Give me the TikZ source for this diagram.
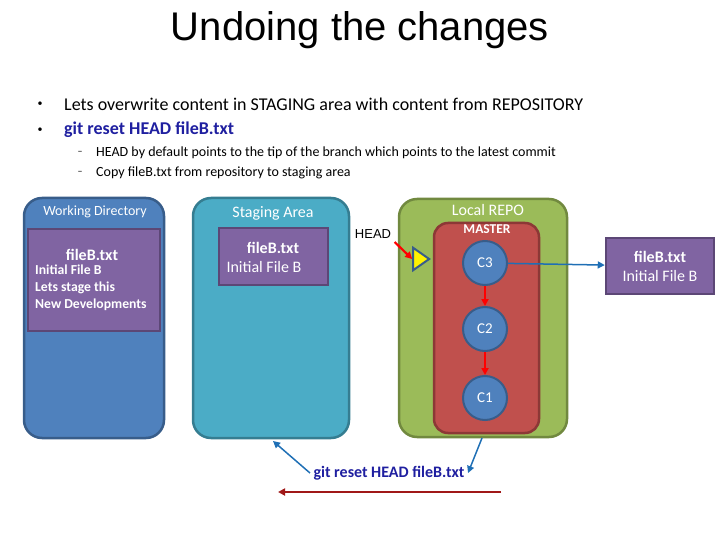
\documentclass[tikz,border=0pt]{standalone}
\usepackage{fontspec}
\setmainfont{Carlito}
\newfontfamily\arialf{Liberation Sans}
\usetikzlibrary{arrows.meta,shapes.geometric}
\definecolor{wdblue}{HTML}{4F81BD}
\definecolor{wdedge}{HTML}{385D8A}
\definecolor{stblue}{HTML}{4BACC6}
\definecolor{stedge}{HTML}{357D91}
\definecolor{grn}{HTML}{9BBB59}
\definecolor{grnedge}{HTML}{71893F}
\definecolor{rd}{HTML}{C0504D}
\definecolor{rdedge}{HTML}{8C3836}
\definecolor{purp}{HTML}{8064A2}
\definecolor{purpedge}{HTML}{5C4776}
\definecolor{cmdblue}{HTML}{1F1FA0}
\definecolor{arrblue}{HTML}{1F6FB5}
\definecolor{darkred}{HTML}{A01818}
\begin{document}
\begin{tikzpicture}[x=1pt,y=-1pt,
  area/.style={draw=#1,line width=2.5pt,rounded corners=18pt},
  filebox/.style={draw=purpedge,fill=purp,line width=2.5pt},
  commit/.style={circle,draw=wdedge,fill=wdblue,line width=2pt,minimum size=44pt,inner sep=0pt,text=white,font=\fontsize{15}{17}\selectfont},
  wt/.style={text=white},
  bl/.style={-{Triangle[length=7pt,width=7pt]},line width=1.8pt,arrblue},
  rl/.style={-{Triangle[length=7pt,width=7pt]},line width=2.2pt,red}]
\useasboundingbox (0,0) rectangle (720,540);
\node (title) at (360,30) {\fontsize{40}{46}\selectfont\arialf Undoing the changes};
\node (b1) at (40,104) {\textbullet};
\node[anchor=west,inner sep=0pt] (t1) at (64,104) {\fontsize{18}{20}\selectfont Lets overwrite content in STAGING area with content from REPOSITORY};
\node (b2) at (40,130) {\textbullet};
\node[anchor=west,inner sep=0pt,text=cmdblue] (t2) at (64,130) {\fontsize{18}{20}\selectfont\bfseries git reset HEAD fileB.txt};
\node (d1) at (80,153) {--};
\node[anchor=west,inner sep=0pt] (s1) at (96,153) {\fontsize{14}{16}\selectfont HEAD by default points to the tip of the branch which points to the latest commit};
\node (d2) at (80,173) {--};
\node[anchor=west,inner sep=0pt] (s2) at (96,173) {\fontsize{14}{16}\selectfont Copy fileB.txt from repository to staging area};
% working directory
\draw[area=wdedge,fill=wdblue] (24,198) rectangle (164,438);
\node[wt,font=\fontsize{14}{16}\selectfont] (wdh) at (95,212) {Working Directory};
\draw[filebox] (28,229) rectangle (160,331);
\node[wt,font=\fontsize{16}{18}\selectfont\bfseries] (wdf) at (92,255) {fileB.txt};
\node[wt,anchor=north west,align=left,inner sep=0pt,font=\fontsize{13.7}{17}\selectfont\bfseries] (wdt) at (35,265) {Initial File B\\Lets stage this\\New Developments};
% staging
\draw[area=stedge,fill=stblue] (193,198) rectangle (349,438);
\node[wt,font=\fontsize{16}{18}\selectfont] (sth) at (273,213) {Staging Area};
\coordinate (stbot) at (273,441);
\draw[filebox] (219,228) rectangle (328,285);
\node[wt,font=\fontsize{16}{18}\selectfont\bfseries] (stf) at (273,248) {fileB.txt};
\node[wt,font=\fontsize{16}{18}\selectfont] (stt) at (264,267) {Initial File B};
% local repo
\draw[area=grnedge,fill=grn] (399,199) rectangle (567,437);
\coordinate (repobot) at (482,438);
\node[wt,font=\fontsize{16}{18}\selectfont] (rph) at (488,210) {Local REPO};
\draw[draw=rdedge,fill=rd,line width=2.5pt,rounded corners=14pt] (434,223) rectangle (539,433);
\node[wt,font=\fontsize{13.5}{15}\selectfont\bfseries] (mst) at (487,229) {MASTER};
\node[commit] (c3) at (485,263) {C3};
\node[commit] (c2) at (485,329) {C2};
\node[commit] (c1) at (485,398) {C1};
\draw[rl] (c3) -- (c2);
\draw[rl] (c2) -- (c1);
\node[isosceles triangle,draw=wdedge,fill=yellow,line width=2pt,minimum height=16pt,minimum width=20pt,inner sep=0pt,isosceles triangle apex angle=70] (tri) at (419,259) {};
\node[font=\fontsize{13}{15}\selectfont\arialf] (head) at (373,234) {HEAD};
\draw[rl] (head.south east) -- (tri.west);
% right file
\node[filebox,minimum width=108pt,minimum height=56pt,align=center,text=white,font=\fontsize{16}{19}\selectfont] (rf) at (660,266) {\textbf{fileB.txt}\\Initial File B};
\draw[bl,line width=1.5pt] (c3) -- (rf);
% command
\node[text=cmdblue,font=\fontsize{16}{18}\selectfont\bfseries] (cmd) at (389,473) {git reset HEAD fileB.txt};
\draw[bl,line width=1.5pt] (cmd.west) -- (stbot);
\draw[bl,line width=1.5pt] (repobot) -- (cmd.east);
\coordinate (ra) at (501,492);
\coordinate (rb) at (278,492);
\draw[-{Triangle[length=7pt,width=7pt]},line width=1.8pt,darkred] (ra) -- (rb);
\end{tikzpicture}
\end{document}
